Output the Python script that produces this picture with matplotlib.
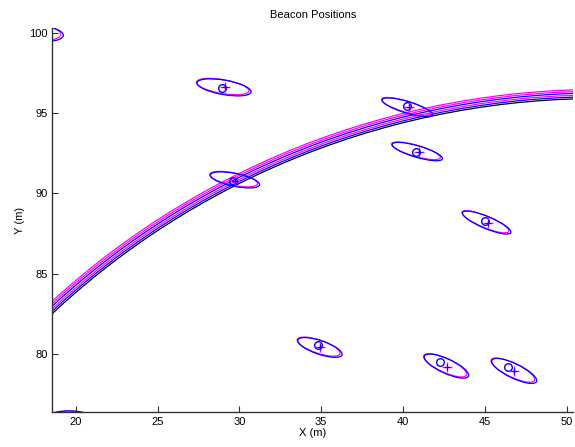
import matplotlib
matplotlib.use("Agg")
import matplotlib.pyplot as plt
from matplotlib.patches import Ellipse, Arc

plt.rcParams['font.family'] = ['Liberation Sans', 'DejaVu Sans']

# Beacon estimated positions (circles) and measured positions (plus)
circ_x = [28.94, 40.24, 40.79, 29.61, 45.02, 34.79, 42.27, 46.44]
circ_y = [96.58, 95.46, 92.60, 90.80, 88.31, 80.58, 79.50, 79.19]
plus_x = [29.10, 40.35, 40.95, 29.75, 45.16, 34.94, 42.66, 46.79]
plus_y = [96.62, 95.40, 92.55, 90.78, 88.18, 80.47, 79.23, 78.98]

# Uncertainty ellipses (blue)
ell_x = [29.06, 40.26, 40.87, 29.73, 45.11, 34.92, 42.65, 46.79, 17.70, 19.80]
ell_y = [96.59, 95.35, 92.60, 90.84, 88.19, 80.43, 79.27, 78.97, 99.95, 75.98]
ell_w = [3.35, 3.22, 3.20, 3.07, 3.20, 2.85, 2.97, 3.03, 3.10, 3.00]
ell_h = [0.90, 0.72, 0.72, 0.80, 0.75, 0.85, 0.90, 0.90, 1.00, 1.00]
ell_ang = [-10, -17, -16.5, -11.6, -23, -19, -25, -26, -5, -3]

# Uncertainty ellipses (magenta)
mell_x = [28.98, 40.18, 40.79, 29.65, 45.03, 34.84, 42.57, 46.71, 17.60, 19.72]
mell_y = [96.64, 95.40, 92.65, 90.89, 88.24, 80.48, 79.32, 79.02, 100.00, 76.00]
mell_w = [3.25, 3.12, 3.10, 2.98, 3.10, 2.76, 2.88, 2.94, 3.00, 2.90]
mell_h = [0.86, 0.69, 0.69, 0.77, 0.72, 0.82, 0.86, 0.86, 0.96, 0.96]

# Range arcs: centre and radius
arc_cx = [52.0, 52.0, 52.0, 52.0, 52.0, 52.0]
arc_cy = [47.40, 47.40, 47.40, 47.40, 47.40, 47.40]
arc_r = [48.50, 48.61, 48.72, 48.84, 48.95, 49.06]
arc_c = ['black', 'blue', 'magenta', 'blue', 'magenta', 'magenta']

x_ticks = [20, 25, 30, 35, 40, 45, 50]
y_ticks = [80, 85, 90, 95, 100]

fig = plt.figure(figsize=(5.75, 4.47), dpi=100)
ax = fig.add_axes([0.091, 0.078, 0.906, 0.859])

for cx, cy, r, c in zip(arc_cx, arc_cy, arc_r, arc_c):
    ax.add_patch(Arc((cx, cy), 2 * r, 2 * r, theta1=60, theta2=150,
                     color=c, lw=0.9))

for x, y, w, h, a in zip(mell_x, mell_y, mell_w, mell_h, ell_ang):
    ax.add_patch(Ellipse((x, y), w, h, angle=a, fill=False,
                         edgecolor='magenta', lw=0.9))
for x, y, w, h, a in zip(ell_x, ell_y, ell_w, ell_h, ell_ang):
    ax.add_patch(Ellipse((x, y), w, h, angle=a, fill=False,
                         edgecolor='blue', lw=0.9))

ax.plot(circ_x, circ_y, 'o', mfc='none', mec='blue', ms=5.5, mew=1.0,
        linestyle='none')
ax.plot(plus_x, plus_y, '+', color='magenta', ms=7, mew=1.0,
        linestyle='none')
ax.plot(plus_x, plus_y, '+', color='blue', ms=5, mew=0.8,
        linestyle='none')

ax.set_xlim(18.57, 50.4)
ax.set_ylim(76.41, 100.27)
ax.set_xticks(x_ticks)
ax.set_yticks(y_ticks)
ax.tick_params(direction='in', length=4, labelsize=8, color='#333333')
for s in ['top', 'right']:
    ax.spines[s].set_visible(False)
for s in ['left', 'bottom']:
    ax.spines[s].set_color('#333333')
    ax.spines[s].set_linewidth(1.0)

ax.set_title('Beacon Positions', fontsize=8, pad=7)
ax.set_xlabel('X (m)', fontsize=8, labelpad=1)
ax.set_ylabel('Y (m)', fontsize=8, labelpad=3)

fig.savefig('out.png', dpi=100)
